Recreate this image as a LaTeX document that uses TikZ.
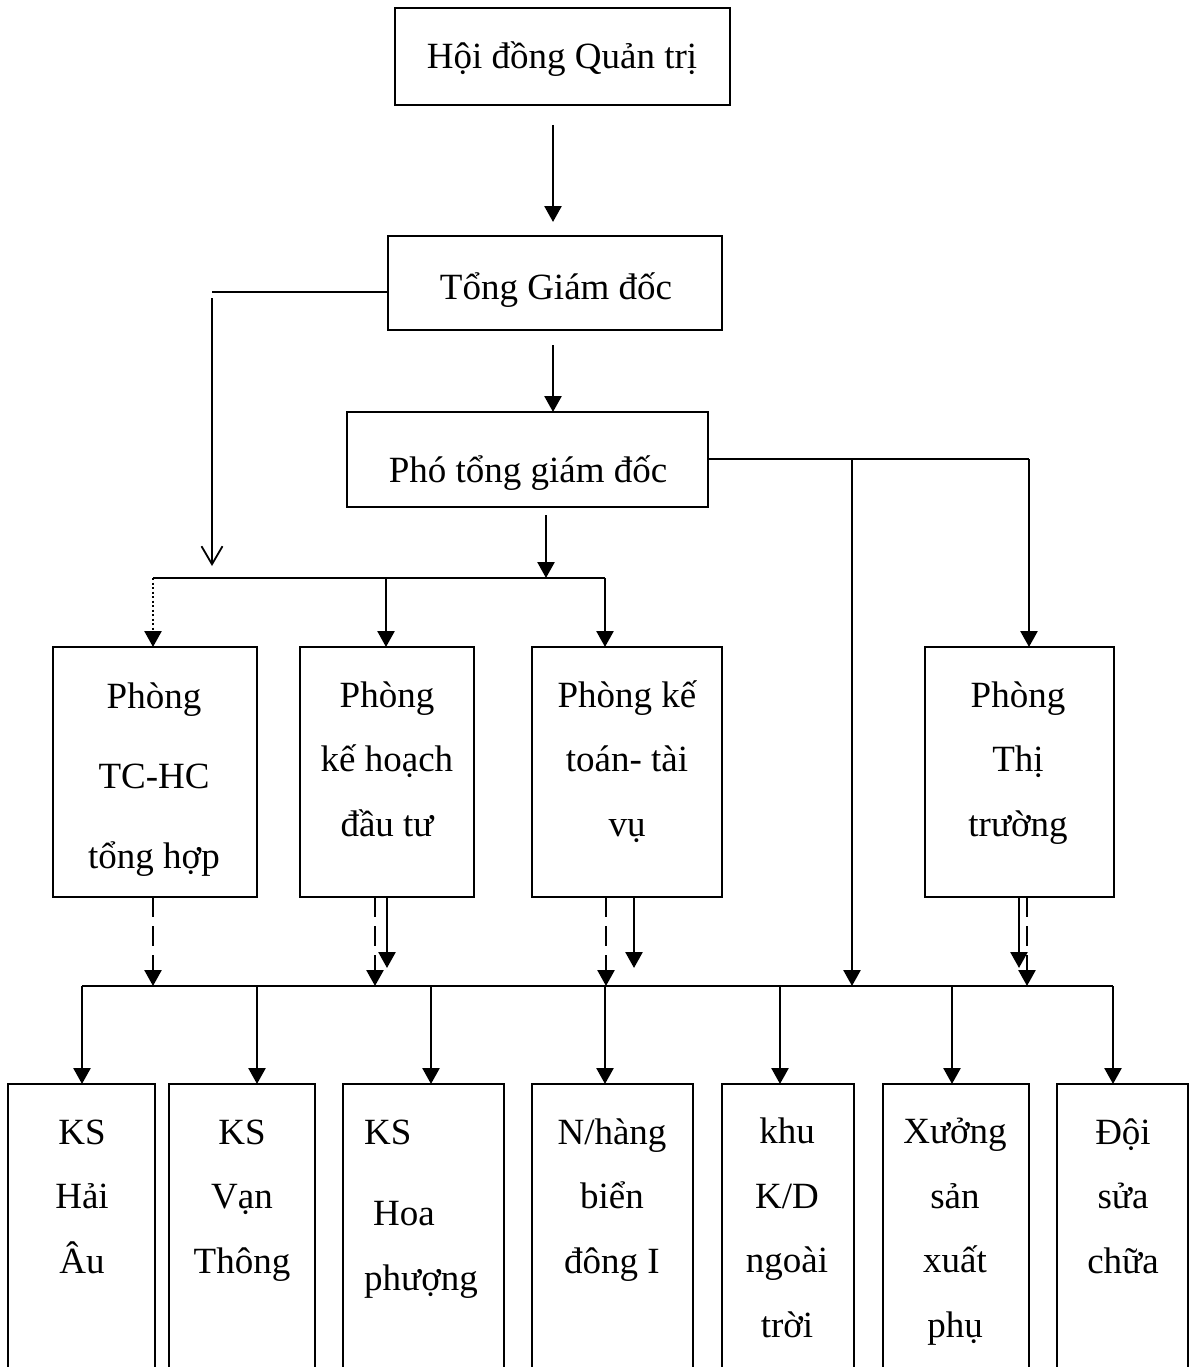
\documentclass[tikz,border=0pt]{standalone}
\usepackage{fontspec}
\setmainfont{Liberation Serif}
\usetikzlibrary{arrows.meta}
\begin{document}
\begin{tikzpicture}[x=1pt,y=-1pt,
  box/.style={draw,line width=2.2pt,inner sep=0pt,outer sep=0pt},
  txt/.style={font=\fontsize{37}{64.5}\selectfont,align=center,anchor=base,inner sep=0pt},
  conn/.style={line width=2.6pt},
  arr/.style={line width=2.6pt,-{Triangle[width=17pt,length=16pt]}},
  darr/.style={arr,dash pattern=on 20pt off 9pt},
  dotarr/.style={arr,dash pattern=on 2pt off 2.5pt},
  openarr/.style={line width=1.8pt,-{Straight Barb[width=21pt,length=18pt,line width=1.8pt]}}
]
\useasboundingbox (0,0) rectangle (1191,1367);
\clip (0,0) rectangle (1191,1367);

% top boxes
\node[box,minimum width=335pt,minimum height=97pt] (hdqt) at (562.5,56.5) {};
\node[box,minimum width=334pt,minimum height=94pt] (tgd) at (555,283) {};
\node[box,minimum width=361pt,minimum height=95pt] (ptgd) at (527.5,459.5) {};
\node[txt] (hdqtt) at (562,69) {Hội đồng Quản trị};
\node[txt] (tgdt) at (556,299) {Tổng Giám đốc};
\node[txt] (ptgdt) at (528,482) {Phó tổng giám đốc};

% departments
\node[box,minimum width=204pt,minimum height=250pt] (tchc) at (155,772) {};
\node[box,minimum width=174pt,minimum height=250pt] (khdt) at (387,772) {};
\node[box,minimum width=190pt,minimum height=250pt] (ktt) at (627,772) {};
\node[box,minimum width=189pt,minimum height=250pt] (tt) at (1019.5,772) {};
\node[txt,font=\fontsize{37}{80}\selectfont] (tchct) at (154,868) {Phòng\\TC-HC\\tổng hợp};
\node[txt] (khdtt) at (387,836) {Phòng\\kế hoạch\\đầu tư};
\node[txt] (ktttt) at (627,836) {Phòng kế\\toán- tài\\vụ};
\node[txt] (ttt) at (1018,836) {Phòng\\Thị\\trường};

% bottom units
\node[box,anchor=north,minimum width=147pt,minimum height=330pt] (b1) at (81.5,1084) {};
\node[box,anchor=north,minimum width=146pt,minimum height=330pt] (b2) at (242,1084) {};
\node[box,anchor=north,minimum width=161pt,minimum height=330pt] (b3) at (423.5,1084) {};
\node[box,anchor=north,minimum width=161pt,minimum height=330pt] (b4) at (612.5,1084) {};
\node[box,anchor=north,minimum width=132pt,minimum height=330pt] (b5) at (788,1084) {};
\node[box,anchor=north,minimum width=146pt,minimum height=330pt] (b6) at (956,1084) {};
\node[box,anchor=north,minimum width=131pt,minimum height=330pt] (b7) at (1122.5,1084) {};
\node[txt] (b1t) at (82,1273) {KS\\Hải\\Âu};
\node[txt] (b2t) at (242,1273) {KS\\Vạn\\Thông};
\node[txt,anchor=base west] (b3ta) at (364,1144) {KS};
\node[txt,anchor=base west] (b3tb) at (373,1225) {Hoa};
\node[txt,anchor=base west] (b3tc) at (364,1290) {phượng};
\node[txt] (b4t) at (612,1273) {N/hàng\\biển\\đông I};
\node[txt] (b5t) at (787,1337) {khu\\K/D\\ngoài\\trời};
\node[txt] (b6t) at (955,1337) {Xưởng\\sản\\xuất\\phụ};
\node[txt] (b7t) at (1123,1273) {Đội\\sửa\\chữa};

% connectors top
\coordinate (a1s) at (553,125);
\coordinate (a1e) at (553,222);
\draw[arr] (a1s) -- (a1e);
\coordinate (a2s) at (553,345);
\draw[arr] (a2s) -- (a2s |- ptgd.north);
\coordinate (lh) at (212,292);
\coordinate (ls) at (212,298);
\coordinate (le) at (212,566);
\draw[line width=1.8pt] (tgd.west |- lh) -- (lh);
\draw[openarr] (ls) -- (le);

% upper bus
\coordinate (a3s) at (546,515);
\coordinate (ub1) at (153,578);
\coordinate (ub2) at (386,578);
\coordinate (ub3) at (605,578);
\draw[arr] (a3s) -- (a3s |- ub1);
\draw[conn] (ub1) -- (ub3);
\draw[dotarr] (ub1) -- (ub1 |- tchc.north);
\draw[arr] (ub2) -- (ub2 |- khdt.north);
\draw[arr] (ub3) -- (ub3 |- ktt.north);

% right branch
\coordinate (rb1) at (852,459);
\coordinate (rb2) at (1029,459);
\coordinate (bb0) at (82,986);
\draw[conn] (ptgd.east |- rb1) -- (rb2);
\draw[arr] (rb1) -- (rb1 |- bb0);
\draw[arr] (rb2) -- (rb2 |- tt.north);

% department outputs
\coordinate (d1) at (153,0);
\coordinate (d2) at (375,0);
\coordinate (d3) at (387,0);
\coordinate (d4) at (606,0);
\coordinate (d5) at (634,0);
\coordinate (d6) at (1019,0);
\coordinate (d7) at (1027,0);
\coordinate (stop) at (0,968);
\draw[darr] (d1 |- tchc.south) -- (d1 |- bb0);
\draw[darr] (d2 |- khdt.south) -- (d2 |- bb0);
\draw[arr] (d3 |- khdt.south) -- (d3 |- stop);
\draw[darr] (d4 |- ktt.south) -- (d4 |- bb0);
\draw[arr] (d5 |- ktt.south) -- (d5 |- stop);
\draw[arr] (d6 |- tt.south) -- (d6 |- stop);
\draw[darr] (d7 |- tt.south) -- (d7 |- bb0);

% lower bus
\coordinate (bb1) at (257,986);
\coordinate (bb2) at (431,986);
\coordinate (bb3) at (605,986);
\coordinate (bb4) at (780,986);
\coordinate (bb5) at (952,986);
\coordinate (bb6) at (1113,986);
\draw[conn] (bb0) -- (bb6);
\draw[arr] (bb0) -- (bb0 |- b1.north);
\draw[arr] (bb1) -- (bb1 |- b2.north);
\draw[arr] (bb2) -- (bb2 |- b3.north);
\draw[arr] (bb3) -- (bb3 |- b4.north);
\draw[arr] (bb4) -- (bb4 |- b5.north);
\draw[arr] (bb5) -- (bb5 |- b6.north);
\draw[arr] (bb6) -- (bb6 |- b7.north);
\end{tikzpicture}
\end{document}
